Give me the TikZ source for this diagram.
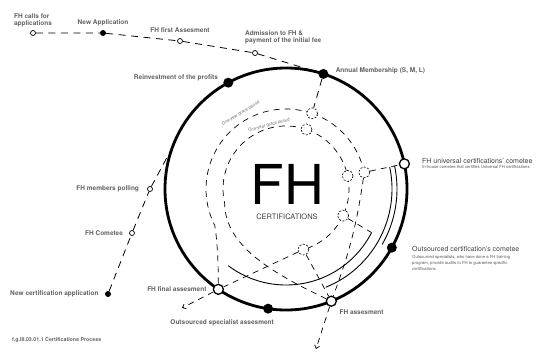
\documentclass[tikz,border=0pt]{standalone}
\usepackage{fontspec}
\setmainfont{TeX Gyre Heros}
\usetikzlibrary{positioning, calc, arrows.meta}
\pgfdeclarelayer{background}
\pgfsetlayers{background,main}
\tikzset{
	ring/.style={line width=2.8pt},
	bigdot/.style={circle, fill=black, minimum size=10pt, inner sep=0pt},
	bigring/.style={circle, draw=black, line width=1.3pt, fill=white, minimum size=10pt, inner sep=0pt},
	smalldot/.style={circle, fill=black, minimum size=6pt, inner sep=0pt},
	smallring/.style={circle, draw=black, line width=0.7pt, fill=white, minimum size=5pt, inner sep=0pt},
	hub/.style={circle, draw=black, dash pattern=on 2pt off 1.5pt, line width=0.6pt, fill=white, minimum size=11pt, inner sep=0pt},
	tag/.style={font=\fontsize{6.5}{7.5}\selectfont\bfseries, text=black!62, inner sep=0pt},
	title/.style={font=\fontsize{7}{8}\selectfont, text=black!75, inner sep=0pt},
	note/.style={font=\fontsize{4.2}{5.8}\selectfont, text=black!65, inner sep=0pt, align=left},
	tinytag/.style={font=\fontsize{4.3}{4.3}\selectfont, text=black!60, inner sep=0pt},
	flow/.style={dash pattern=on 7pt off 5.5pt, line width=0.8pt},
	grace/.style={dash pattern=on 6pt off 5pt, line width=0.7pt},
	span/.style={line width=0.9pt},
	exitline/.style={grace, -{Straight Barb[length=3pt,width=5pt]}}
}

\begin{document}
\begin{tikzpicture}[x=1pt, y=1pt]
	\useasboundingbox (0,0) rectangle (545,-351);
	\coordinate (c) at (286,-189);
	\draw[ring] (c) circle[radius=121];

	% Nodes on the ring
	\node[bigdot] (reinv) at ($(c)+(118.5:121)$) {};
	\node[bigdot] (annual) at ($(c)+(72:121)$) {};
	\node[bigring] (univ) at ($(c)+(12:121)$) {};
	\node[bigdot] (outcom) at ($(c)+(-29:121)$) {};
	\node[bigring] (fhass) at ($(c)+(-68:121)$) {};
	\node[bigdot] (spec) at ($(c)+(-98.5:121)$) {};
	\node[bigring] (final) at ($(c)+(-124:121)$) {};
	\coordinate (entry) at ($(c)+(160:121)$);

	% Application chain
	\node[smallring] (calls) at (33,-33) {};
	\node[smalldot] (newapp) at (103,-33) {};
	\node[smallring] (first) at (180,-41) {};
	\node[smallring] (admit) at (255,-53) {};

	% Certification chain
	\node[smalldot] (newcert) at (108,-294) {};
	\node[smallring] (cometee) at (132,-233) {};
	\node[smallring] (polling) at (150,-189) {};

	% Grace period hubs
	\node[hub] (ha) at ($(c)+(71:80)$) {};
	\node[hub] (hb) at ($(c)+(71:63)$) {};
	\node[hub] (hc) at ($(c)+(12:63)$) {};
	\node[hub] (hd) at ($(c)+(12:80)$) {};
	\node[hub] (he) at ($(c)+(-25:63)$) {};
	\node[hub] (hf) at ($(c)+(-74:63)$) {};
	\coordinate (solend) at ($(c)+(-27:96)$);
	\coordinate (exitA) at (316,-349);
	\coordinate (exitB) at (182,-308);

	% Centre
	\node[font=\fontsize{55}{55}\selectfont, inner sep=0pt, text depth=0pt, anchor=base] (fh) at (287.5,-204) {FH};
	\node[font=\fontsize{7.5}{8}\selectfont, text=black!75, inner sep=0pt, anchor=base] (cert) at (287,-219) {CERTIFICATIONS};

	% Labels
	\node[tag, above=3pt of calls, align=left] {FH calls for\\applications};
	\node[tag, above=4pt of newapp] {New Application};
	\node[tag, above=5pt of first] {FH first Assesment};
	\node[tag, align=left, anchor=south west] at ($(admit)+(-10,8.5)$) {Admission to FH \&\\payment of the initial fee};
	\node[tag, right=7pt of annual, yshift=3pt] {Annual Membership (S, M, L)};
	\node[tag, left=5pt of reinv, yshift=5pt] {Reinvestment of the profits};
	\node[title, right=12pt of univ, yshift=2.5pt] (univtxt) {FH universal certifications' cometee};
	\node[note, anchor=north west] at ([yshift=-1.5pt]univtxt.south west) {In-house cometee that certifies Universal FH certifications};
	\node[title, right=15pt of outcom, yshift=-1pt] (outtxt) {Outsourced certification's cometee};
	\node[note, anchor=north west] at ([yshift=-4pt]outtxt.south west) {Outsourced specialists, who have done a FH training\\program, provide audits to FH to guarantee specific\\certifications.};
	\node[tag, below right=4pt and 4pt of fhass] {FH assesment};
	\node[tag, below=5.5pt of spec, xshift=-46pt] {Outsourced specialist assesment};
	\node[tag, left=6pt of final] {FH final assesment};
	\node[tag, left=6pt of newcert] {New certification application};
	\node[tag, left=6pt of cometee] {FH Cometee};
	\node[tag, left=8pt of polling] {FH members polling};
	\node[tag, font=\fontsize{5.3}{6}\selectfont\bfseries, anchor=base west] at (12,-341) {f.g.III.03.01.1 Certifications Process};
	\node[tinytag, rotate=31] at ($(c)+(121:88)$) {One-year grace period};
	\node[tinytag, rotate=15] at ($(c)+(105:66)$) {One-year grace period};

	% Connectors
	\begin{pgfonlayer}{background}
		\draw[flow] (calls) -- (newapp) -- (first) -- (admit) -- (annual);
		\draw[flow] (newcert) -- (cometee) -- (polling) -- (entry);
		\draw[flow] (annual) -- (ha);
		\draw[grace] (ha) arc[start angle=71, end angle=12, radius=80];
		\draw[grace] (ha) arc[start angle=71, end angle=207, radius=80] .. controls +(-80:15) and +(90:25) .. (final);
		\draw[grace] (hb) arc[start angle=71, end angle=12, radius=63];
		\draw[grace] (hb) arc[start angle=71, end angle=193, radius=63] .. controls (225,-245) and (270,-272) .. (fhass);
		\draw[grace] (hc) arc[start angle=12, end angle=-25, radius=63];
		\draw[grace] (he) arc[start angle=-25, end angle=-74, radius=63];
		\draw[grace] (hd) -- (univ);
		\draw[grace] (hd) to[bend left=6] (fhass);
		\draw[grace] (he) -- (solend);
		\draw[grace] (hf) -- (final);
		\draw[grace] (hf) -- (fhass);
		\draw[exitline] (fhass) -- (exitA);
		\draw[exitline] (final) -- (exitB);
		\draw[span] ($(c)+(233:96)$) arc[start angle=233, end angle=333, radius=96];
		\draw[span] ($(c)+(-68:106)$) arc[start angle=-68, end angle=12, radius=106];
		\draw[span] ($(c)+(-30:111)$) arc[start angle=-30, end angle=12, radius=111];
	\end{pgfonlayer}
\end{tikzpicture}
\end{document}
